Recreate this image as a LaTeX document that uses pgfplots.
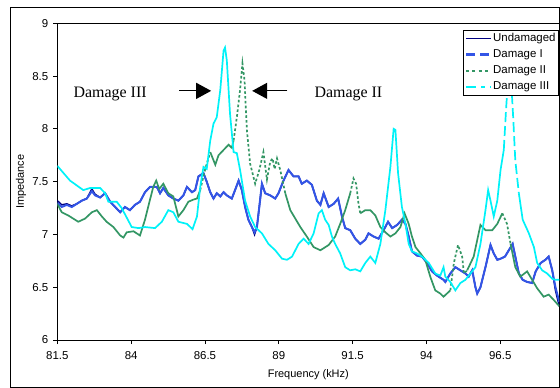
\documentclass[border=0pt]{standalone}
\usepackage{pgfplots}
\pgfplotsset{compat=1.18}
\usepackage{fontspec}
\setmainfont{Liberation Sans}
\newfontfamily\serifface{Liberation Serif}
\usetikzlibrary{arrows.meta}

\definecolor{cUnd}{RGB}{0,0,128}
\definecolor{cD1}{RGB}{51,85,230}
\definecolor{cD2}{RGB}{51,150,100}
\definecolor{cD3}{RGB}{0,242,248}

\pgfplotsset{
  und/.style={cUnd, line width=1.5bp, forget plot},
  dI/.style={cD1, line width=2bp, forget plot},
  dII/.style={cD2, line width=1.7bp, forget plot},
  dIIdot/.style={cD2, line width=1.7bp, dash pattern=on 2.6bp off 2.2bp, forget plot},
  dIII/.style={cD3, line width=1.7bp, forget plot},
  dIIIdash/.style={cD3, line width=1.7bp, dash pattern=on 10bp off 4bp, forget plot},
}

\begin{document}
\begin{tikzpicture}
\useasboundingbox (0,0) rectangle (560bp,388bp);
% chart area frame
\draw[line width=0.8bp] (10bp,1bp) rectangle (559.6bp,381bp);
\begin{axis}[
  at={(57.3bp,48bp)}, anchor=south west,
  scale only axis, width=502bp, height=316.7bp,
  xmin=81.5, xmax=98.5, ymin=6, ymax=9,
  xtick={81.5,84,86.5,89,91.5,94,96.5},
  ytick={6,6.5,7,7.5,8,8.5,9},
  tick pos=left, tick align=outside,
  major tick length=4bp,
  axis line style={line width=0.8bp},
  every tick/.style={black, line width=0.8bp},
  /pgf/number format/assume math mode=true,
  /pgf/number format/fixed,
  ticklabel style={font=\fontsize{11.5}{13}\selectfont},
  xticklabel style={yshift=-4bp},
  yticklabel style={xshift=-1.5bp},
  xlabel={Frequency (kHz)}, ylabel={Impedance},
  label style={font=\fontsize{11}{13}\selectfont},
  xlabel style={at={(axis description cs:0.5,-0.1105)}, anchor=center},
  ylabel style={at={(axis description cs:-0.0723,0.5)}, anchor=center},
  legend image code/.code={\draw[#1] (0bp,0bp) -- (25bp,0bp);},
  legend style={at={(1,1)}, anchor=north east, xshift=-1bp, yshift=-6.7bp,
    draw=black, fill=white, inner sep=1.5bp,
    font=\fontsize{11.5}{13}\selectfont, row sep=2.6bp,
    nodes={inner sep=1bp, text height=9bp, text depth=2.5bp}},
  legend cell align=left,
  clip=true,
]
\addlegendimage{cUnd, line width=1.4bp}
\addlegendentry{Undamaged}
\addlegendimage{cD1, line width=2.2bp, dash pattern=on 9bp off 5bp}
\addlegendentry{Damage I}
\addlegendimage{cD2, line width=2.2bp, dash pattern=on 3bp off 3.3bp}
\addlegendentry{Damage II}
\addlegendimage{cD3, line width=2.2bp, dash pattern=on 10bp off 5bp on 4bp off 5bp}
\addlegendentry{Damage III}

% Undamaged (almost coincides with Damage I)
\addplot[und] table {
81.50 7.32
81.65 7.28
81.82 7.29
81.99 7.27
82.16 7.29
82.33 7.32
82.50 7.34
82.67 7.43
82.78 7.38
82.95 7.35
83.12 7.39
83.29 7.31
83.46 7.26
83.63 7.21
83.79 7.26
83.96 7.23
84.13 7.28
84.30 7.31
84.47 7.40
84.64 7.45
84.87 7.45
84.98 7.39
85.09 7.44
85.26 7.37
85.43 7.34
85.60 7.32
85.77 7.37
85.89 7.45
86.06 7.40
86.17 7.42
86.28 7.55
86.45 7.58
86.56 7.50
86.68 7.40
86.79 7.34
86.90 7.39
87.02 7.36
87.13 7.40
87.24 7.37
87.41 7.34
87.52 7.42
87.64 7.51
87.75 7.42
87.86 7.26
87.97 7.14
88.09 7.07
88.18 7.00
88.26 7.07
88.34 7.26
88.43 7.48
88.54 7.39
88.71 7.37
88.88 7.34
88.99 7.39
89.16 7.51
89.33 7.61
89.50 7.55
89.67 7.55
89.78 7.48
89.95 7.51
90.12 7.47
90.29 7.32
90.41 7.28
90.52 7.39
90.69 7.26
90.86 7.29
91.01 7.34
91.14 7.17
91.25 7.06
91.42 7.04
91.59 6.96
91.76 6.91
91.93 6.95
92.04 7.01
92.21 6.98
92.38 6.96
92.55 7.04
92.70 7.12
92.84 7.06
93.01 7.09
93.17 7.14
93.29 7.10
93.40 6.98
93.51 6.84
93.68 6.80
93.85 6.79
94.02 6.73
94.19 6.65
94.36 6.61
94.58 6.57
94.64 6.55
94.81 6.63
94.98 6.69
95.15 6.66
95.32 6.63
95.43 6.60
95.55 6.66
95.66 6.50
95.72 6.44
95.83 6.50
96.00 6.69
96.17 6.90
96.28 6.82
96.40 6.76
96.51 6.77
96.66 6.79
96.79 6.85
96.92 6.91
97.01 6.79
97.13 6.63
97.26 6.57
97.41 6.55
97.58 6.54
97.70 6.65
97.87 6.73
98.03 6.76
98.14 6.79
98.26 6.66
98.37 6.47
98.50 6.32
};

% Damage I
\addplot[dI] table {
81.50 7.30
81.65 7.26
81.82 7.28
81.99 7.26
82.16 7.29
82.33 7.32
82.50 7.34
82.67 7.41
82.78 7.37
82.95 7.35
83.12 7.39
83.29 7.31
83.46 7.26
83.63 7.21
83.79 7.26
83.96 7.23
84.13 7.28
84.30 7.31
84.47 7.40
84.64 7.45
84.87 7.45
84.98 7.39
85.09 7.44
85.26 7.37
85.43 7.34
85.60 7.32
85.77 7.37
85.89 7.45
86.06 7.40
86.17 7.42
86.28 7.55
86.45 7.58
86.56 7.50
86.68 7.40
86.79 7.34
86.90 7.39
87.02 7.36
87.13 7.40
87.24 7.37
87.41 7.34
87.52 7.42
87.64 7.51
87.75 7.42
87.86 7.26
87.97 7.14
88.09 7.07
88.18 7.02
88.26 7.07
88.34 7.26
88.43 7.48
88.54 7.39
88.71 7.37
88.88 7.34
88.99 7.39
89.16 7.51
89.33 7.61
89.50 7.55
89.67 7.55
89.78 7.48
89.95 7.51
90.12 7.47
90.29 7.32
90.41 7.28
90.52 7.39
90.69 7.26
90.86 7.29
91.01 7.34
91.14 7.17
91.25 7.06
91.42 7.04
91.59 6.96
91.76 6.91
91.93 6.95
92.04 7.01
92.21 6.98
92.38 6.96
92.55 7.04
92.70 7.12
92.84 7.06
93.01 7.09
93.17 7.14
93.29 7.10
93.40 6.98
93.51 6.84
93.68 6.80
93.85 6.79
94.02 6.73
94.19 6.65
94.36 6.61
94.58 6.57
94.64 6.55
94.81 6.63
94.98 6.69
95.15 6.66
95.32 6.63
95.43 6.60
95.55 6.66
95.66 6.50
95.72 6.44
95.83 6.50
96.00 6.69
96.17 6.90
96.28 6.82
96.40 6.76
96.51 6.77
96.66 6.79
96.79 6.85
96.92 6.91
97.01 6.79
97.13 6.63
97.26 6.57
97.41 6.55
97.58 6.54
97.70 6.65
97.87 6.73
98.03 6.76
98.14 6.79
98.26 6.66
98.37 6.50
98.50 6.36
};

% Damage II: solid where the trace is dense, dotted on the steep stretches
\addplot[dII] table {
81.50 7.29
81.65 7.21
81.87 7.18
82.21 7.12
82.44 7.15
82.67 7.21
82.84 7.23
83.01 7.17
83.17 7.12
83.40 7.07
83.63 6.99
83.74 6.97
83.85 7.02
84.08 7.03
84.30 6.99
84.47 7.14
84.64 7.33
84.75 7.45
84.85 7.51
84.95 7.43
85.09 7.48
85.26 7.39
85.43 7.36
85.60 7.17
85.77 7.23
85.94 7.31
86.11 7.33
86.23 7.34
86.34 7.42
};
\addplot[dIIdot] table {
86.34 7.42
86.51 7.62
86.68 7.78
};
\addplot[dII] table {
86.68 7.78
86.85 7.66
86.96 7.75
87.13 7.80
87.30 7.85
87.41 7.82
87.47 7.89
};
\addplot[dIIdot] table {
87.47 7.89
87.58 8.11
87.69 8.37
87.77 8.62
87.84 8.46
87.92 7.99
88.03 7.67
88.20 7.48
88.34 7.61
88.48 7.78
88.60 7.52
88.71 7.69
88.79 7.72
88.86 7.62
88.94 7.72
89.05 7.61
89.22 7.39
};
\addplot[dII] table {
89.22 7.39
89.39 7.23
89.56 7.15
89.73 7.07
89.95 6.98
90.18 6.88
90.41 6.85
90.69 6.90
90.91 6.98
91.08 7.10
91.25 7.23
91.42 7.39
};
\addplot[dIIdot] table {
91.42 7.39
91.53 7.53
91.62 7.48
91.70 7.29
91.76 7.20
};
\addplot[dII] table {
91.76 7.20
91.93 7.23
92.10 7.23
92.27 7.18
92.44 7.07
92.61 7.02
92.78 6.98
92.95 7.01
93.12 7.07
93.26 7.20
93.40 7.10
93.51 6.98
93.63 6.88
93.80 6.82
93.96 6.76
94.13 6.60
94.30 6.47
94.47 6.44
94.58 6.41
94.81 6.47
};
\addplot[dIIdot] table {
94.81 6.47
94.93 6.73
95.07 6.90
95.21 6.79
95.27 6.63
95.38 6.66
};
\addplot[dII] table {
95.38 6.66
95.60 6.79
95.83 7.09
96.00 7.04
96.23 7.04
96.40 7.10
96.57 7.20
};
\addplot[dIIdot] table {
96.57 7.20
96.73 7.10
96.85 6.91
};
\addplot[dII] table {
96.85 6.91
97.01 6.69
97.18 6.60
97.41 6.65
97.58 6.57
97.75 6.49
97.97 6.41
98.14 6.43
98.31 6.38
98.50 6.32
};

% Damage III: dashes show on the tall resonance at 96.8 kHz
\addplot[dIII] table {
81.50 7.65
81.93 7.51
82.38 7.42
82.61 7.44
82.95 7.44
83.12 7.39
83.23 7.31
83.51 7.31
83.68 7.25
84.02 7.07
84.25 7.06
84.47 7.07
84.81 7.06
85.04 7.12
85.26 7.23
85.43 7.21
85.60 7.12
85.89 7.10
86.08 7.05
86.23 7.17
86.34 7.45
86.45 7.64
86.56 7.62
86.68 7.89
86.79 8.05
86.90 8.11
87.02 8.37
87.13 8.74
87.18 8.77
87.24 8.65
87.35 8.14
87.47 7.78
87.58 7.77
87.69 7.61
87.86 7.32
88.03 7.17
88.20 7.07
88.43 7.01
88.65 6.91
88.88 6.85
89.11 6.77
89.28 6.76
89.45 6.79
89.67 6.91
89.84 6.96
90.01 6.91
90.18 7.01
90.35 7.20
90.46 7.23
90.57 7.14
90.69 7.09
90.80 6.98
90.91 6.91
91.08 6.82
91.25 6.69
91.42 6.66
91.59 6.67
91.76 6.65
91.93 6.73
92.10 6.79
92.27 6.73
92.44 6.91
92.61 7.23
92.78 7.64
92.89 8.00
92.95 7.99
93.04 7.58
93.17 7.26
93.29 7.10
93.40 6.91
93.51 6.84
93.68 6.82
93.85 6.79
94.08 6.73
94.30 6.63
94.47 6.61
94.58 6.69
94.64 6.60
94.81 6.55
94.98 6.47
95.15 6.54
95.32 6.57
95.49 6.63
95.66 6.69
95.83 6.91
96.00 7.23
96.09 7.42
96.17 7.32
96.28 7.17
96.40 7.32
96.51 7.61
96.62 7.80
};
\addplot[dIIIdash] table {
96.62 7.80
96.70 8.20
96.76 8.45
96.84 8.45
96.90 8.30
96.94 8.10
97.01 7.70
97.13 7.39
};
\addplot[dIII] table {
97.13 7.39
97.26 7.14
97.47 7.01
97.64 6.88
97.75 6.73
97.92 6.66
98.09 6.63
98.26 6.58
98.37 6.57
98.50 6.57
};

% annotations
\node[font=\serifface\fontsize{16}{18}\selectfont] at (axis cs:83.29,8.33) {Damage III};
\node[font=\serifface\fontsize{16}{18}\selectfont] at (axis cs:91.36,8.33) {Damage II};
\draw[line width=1.2bp, -{Triangle[length=15bp,width=16bp]}] (axis cs:85.63,8.36) -- (axis cs:86.71,8.36);
\draw[line width=1.2bp, -{Triangle[length=15bp,width=16bp]}] (axis cs:89.29,8.36) -- (axis cs:88.10,8.36);
\end{axis}
\end{tikzpicture}
\end{document}
